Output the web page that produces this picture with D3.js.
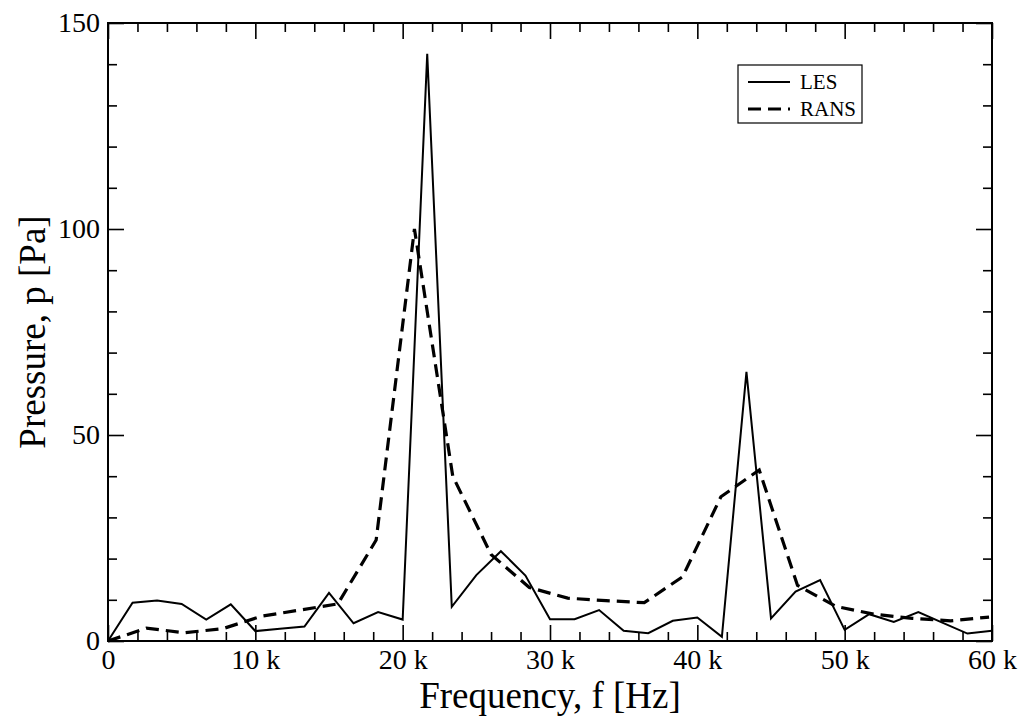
<!DOCTYPE html>
<html>
<head>
<meta charset="utf-8">
<script src="https://cdn.jsdelivr.net/npm/d3@7"></script>
<style>
  body { margin: 0; background: #fff; }
  text { font-family: "Liberation Serif", "DejaVu Serif", serif; fill: #000; }
</style>
</head>
<body>
<div id="chart"></div>
<script>
// LES samples every 60k/36 Hz
const lesStep = 60000 / 36;
const lesValues = [0, 9.3, 9.8, 9.0, 5.2, 8.9, 2.4, 3.0, 3.5, 11.7, 4.3, 7.0, 5.2, 142.5, 8.3, 16.0, 21.8, 15.9, 5.3, 5.3, 7.5, 2.5, 1.9, 4.9, 5.7, 1.0, 65.3, 5.5, 12.0, 14.8, 2.7, 6.5, 4.6, 7.0, 4.4, 1.8, 2.5];

// RANS samples every 2.6k Hz
const ransStep = 2600;
const ransValues = [0, 3.1, 2.0, 3.0, 6.0, 7.5, 9.0, 24.5, 100, 40, 21, 13, 10.4, 9.8, 9.3, 15.6, 35, 41.5, 13.5, 8.4, 6.5, 5.5, 4.9, 5.8];

const xMajor = [0, 10000, 20000, 30000, 40000, 50000, 60000];
const yMajor = [0, 50, 100, 150];
const legendNames = ["LES", "RANS"];

const W = 1023, H = 720;
const margin = { top: 23, right: 31, bottom: 79, left: 108 };
const width = W - margin.left - margin.right,
  height = H - margin.top - margin.bottom;

const svg = d3.select("#chart").append("svg")
  .attr("width", W).attr("height", H);
const g = svg.append("g")
  .attr("transform", "translate(" + margin.left + "," + margin.top + ")");

const x = d3.scaleLinear().domain([0, 60000]).range([0, width]);
const y = d3.scaleLinear().domain([0, 150]).range([height, 0]);

const xMinor = d3.range(0, 60001, 2000).filter(v => xMajor.indexOf(v) < 0);
const yMinor = d3.range(0, 151, 10).filter(v => yMajor.indexOf(v) < 0);
const fmtX = d => d === 0 ? "0" : (d / 1000) + " k";

function styleAxis(sel) {
  sel.select(".domain").remove();
  sel.selectAll(".tick line").attr("stroke", "#000").attr("stroke-width", 1.6);
  sel.selectAll("text").style("font-size", "28px").attr("fill", "#000");
}

// minor ticks (all pointing inward)
g.append("g").attr("transform", "translate(0," + height + ")")
  .call(d3.axisBottom(x).tickValues(xMinor).tickSize(-9).tickFormat(""))
  .call(styleAxis);
g.append("g")
  .call(d3.axisTop(x).tickValues(xMinor).tickSize(-9).tickFormat(""))
  .call(styleAxis);
g.append("g")
  .call(d3.axisLeft(y).tickValues(yMinor).tickSize(-9).tickFormat(""))
  .call(styleAxis);
g.append("g").attr("transform", "translate(" + width + ",0)")
  .call(d3.axisRight(y).tickValues(yMinor).tickSize(-9).tickFormat(""))
  .call(styleAxis);

// major ticks
g.append("g").attr("transform", "translate(0," + height + ")")
  .call(d3.axisBottom(x).tickValues(xMajor).tickSize(-16).tickPadding(8).tickFormat(fmtX))
  .call(styleAxis);
g.append("g")
  .call(d3.axisTop(x).tickValues(xMajor).tickSize(-16).tickFormat(""))
  .call(styleAxis);
g.append("g")
  .call(d3.axisLeft(y).tickValues(yMajor).tickSize(-16).tickPadding(8))
  .call(styleAxis);
g.append("g").attr("transform", "translate(" + width + ",0)")
  .call(d3.axisRight(y).tickValues(yMajor).tickSize(-16).tickFormat(""))
  .call(styleAxis);

// lines
const line = d3.line().x(d => x(d[0])).y(d => y(d[1]));
const les = lesValues.map((v, i) => [i * lesStep, v]);
const rans = ransValues.map((v, i) => [i * ransStep, v]);

g.append("path").datum(les)
  .attr("fill", "none").attr("stroke", "#000").attr("stroke-width", 2)
  .attr("d", line);
g.append("path").datum(rans)
  .attr("fill", "none").attr("stroke", "#000").attr("stroke-width", 3.2)
  .attr("stroke-dasharray", "13,7")
  .attr("d", line);

// frame
g.append("rect").attr("x", 0).attr("y", 0)
  .attr("width", width).attr("height", height)
  .attr("fill", "none").attr("stroke", "#000").attr("stroke-width", 2);

// axis labels
svg.append("text")
  .attr("x", margin.left + width / 2).attr("y", 708)
  .attr("text-anchor", "middle").style("font-size", "37px")
  .text("Frequency, f [Hz]");
svg.append("text")
  .attr("transform", "translate(45," + (margin.top + height / 2) + ") rotate(-90)")
  .attr("text-anchor", "middle").style("font-size", "37px")
  .text("Pressure, p [Pa]");

// legend
const lg = svg.append("g").attr("transform", "translate(738,65)");
lg.append("rect").attr("width", 124).attr("height", 58)
  .attr("fill", "#fff").attr("stroke", "#000").attr("stroke-width", 1.2);
legendNames.forEach((name, i) => {
  const ly = 17 + i * 27;
  lg.append("line").attr("x1", 10).attr("x2", 52).attr("y1", ly).attr("y2", ly)
    .attr("stroke", "#000")
    .attr("stroke-width", i === 0 ? 2 : 3.2)
    .attr("stroke-dasharray", i === 0 ? null : "13,7");
  lg.append("text").attr("x", 62).attr("y", ly + 7)
    .style("font-size", "21px").text(name);
});
</script>
</body>
</html>
